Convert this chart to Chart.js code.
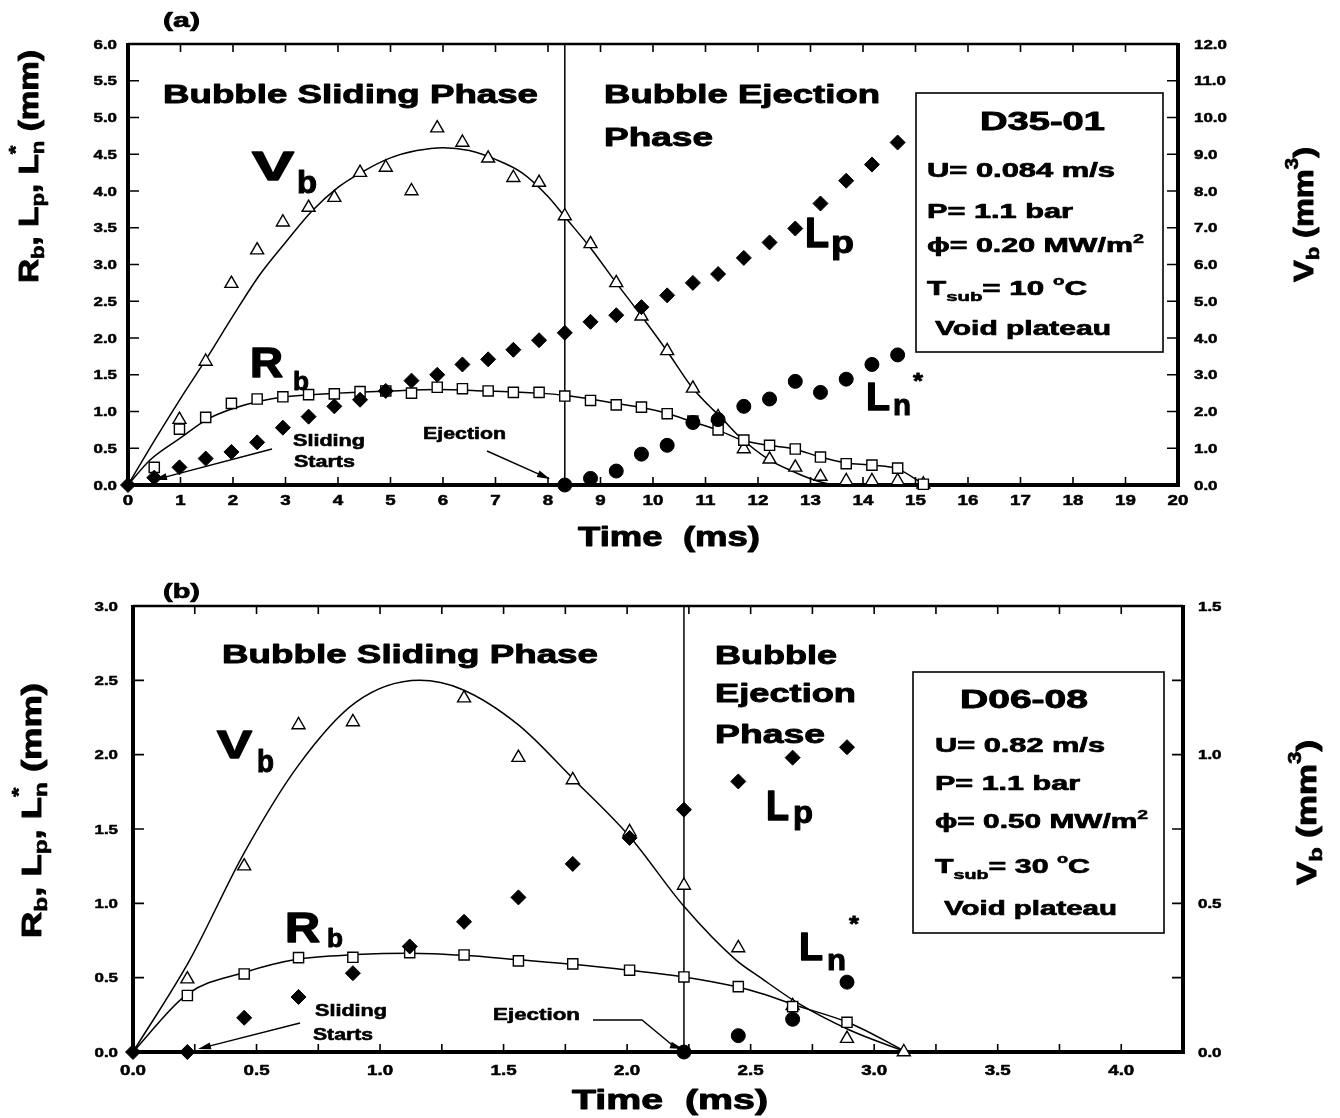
<!DOCTYPE html>
<html>
<head>
<meta charset="utf-8">
<script src="https://cdn.jsdelivr.net/npm/chart.js@4.4.1/dist/chart.umd.min.js"></script>
<style>
  body { margin: 0; background: #fff; }
  canvas { position: absolute; left: 0; top: 0; }
</style>
</head>
<body>
<canvas id="chartA" width="1340" height="1118"></canvas>
<canvas id="chartB" width="1340" height="1118"></canvas>
<script>
// ---------- (a) D35-01 : measured points ----------
const timeA = [0, 0.50, 0.98, 1.48, 1.97, 2.46, 2.95, 3.44, 3.93, 4.42, 4.91, 5.40, 5.89, 6.37, 6.86, 7.34,
  7.83, 8.32, 8.81, 9.30, 9.78, 10.27, 10.76, 11.24, 11.73, 12.22, 12.71, 13.19, 13.68, 14.17, 14.66, 15.15];
const rbA = [null, 0.24, 0.76, 0.92, 1.11, 1.17, 1.20, 1.23, 1.24, 1.27, 1.28, 1.25, 1.33, 1.31, 1.28, 1.26,
  1.26, 1.21, 1.15, 1.09, 1.06, 0.97, 0.87, 0.75, 0.61, 0.54, 0.49, 0.38, 0.29, 0.27, 0.23, 0.01];
const lpA = [0, 0.10, 0.24, 0.36, 0.45, 0.58, 0.78, 0.93, 1.07, 1.16, 1.28, 1.42, 1.50, 1.64, 1.71, 1.84,
  1.97, 2.07, 2.22, 2.31, 2.42, 2.58, 2.75, 2.87, 3.09, 3.30, 3.49, 3.83, 4.14, 4.36, 4.66, null];
const lnA = [null, null, null, null, null, null, null, null, null, null, null, null, null, null, null, null,
  null, 0, 0.09, 0.19, 0.42, 0.54, 0.85, 0.89, 1.07, 1.17, 1.41, 1.26, 1.44, 1.64, 1.77, null];
const vbA = [null, null, 1.78, 3.36, 5.48, 6.39, 7.15, 7.55, 7.82, 8.50, 8.64, 8.00, 9.71, 9.32, 8.89, 8.36,
  8.23, 7.32, 6.56, 5.50, 4.59, 3.65, 2.63, 1.85, 0.98, 0.70, 0.48, 0.23, 0.11, 0.11, 0.11, 0.02];

// (a) fitted curves
const vbFitTimeA = [0, 0.5, 1.0, 1.5, 2.0, 2.5, 3.0, 3.5, 4.0, 4.5, 5.0, 5.5, 6.0, 6.5, 7.0, 7.5, 8.0, 8.32,
  8.81, 9.30, 9.78, 10.27, 10.72, 11.0, 11.28, 11.66, 12.2, 12.68, 13.0, 13.4, 14.0, 15.15];
const vbFitA = [0, 1.2, 2.35, 3.45, 4.6, 5.7, 6.6, 7.45, 8.1, 8.55, 8.9, 9.1, 9.18, 9.1, 8.86, 8.5, 7.85, 7.3,
  6.45, 5.5, 4.6, 3.64, 2.7, 2.25, 1.86, 1.3, 0.7, 0.36, 0.17, 0.02, 0, 0];
const rbFitTimeA = [0, 0.42, 1.0, 1.5, 2.0, 2.5, 3.0, 4.0, 5.0, 5.9, 6.8, 7.8, 8.32, 9.3, 9.8, 10.29, 10.75,
  11.23, 11.66, 12.2, 12.69, 13.19, 13.68, 14.17, 14.66, 15.15];
const rbFitA = [0, 0.34, 0.64, 0.89, 1.04, 1.14, 1.20, 1.25, 1.28, 1.30, 1.28, 1.25, 1.22, 1.11, 1.05, 0.97,
  0.86, 0.75, 0.62, 0.54, 0.49, 0.38, 0.30, 0.27, 0.22, 0.01];
const ejectA = 8.32;

// ---------- (b) D06-08 : measured points ----------
const timeB = [0, 0.22, 0.45, 0.67, 0.89, 1.12, 1.34, 1.56, 1.78, 2.01, 2.23, 2.45, 2.67, 2.89, 3.12];
const rbB = [null, 0.38, 0.525, 0.635, 0.637, 0.668, 0.653, 0.613, 0.593, 0.55, 0.505, 0.44, 0.305, 0.20, null];
const lpB = [0, 0, 0.23, 0.37, 0.53, 0.71, 0.876, 1.04, 1.265, 1.44, 1.63, 1.82, 1.98, 2.05, null];
const lnB = [null, null, null, null, null, null, null, null, null, null, 0, 0.11, 0.22, 0.47, null];
const vbB = [null, 0.245, 0.625, 1.10, 1.11, null, 1.19, 0.99, 0.915, 0.74, 0.56, 0.35, 0.155, 0.045, 0];

// (b) fitted curves
const vbFitTimeB = [0, 0.23, 0.45, 0.67, 0.90, 1.16, 1.33, 1.56, 1.78, 2.01, 2.23, 2.44, 2.54, 2.69, 2.90, 3.13];
const vbFitB = [0, 0.31, 0.67, 0.965, 1.175, 1.25, 1.22, 1.10, 0.92, 0.725, 0.49, 0.31, 0.25, 0.165, 0.074, 0];
const rbFitTimeB = [0, 0.22, 0.45, 0.67, 0.90, 1.12, 1.34, 1.56, 1.78, 2.01, 2.23, 2.44, 2.54, 2.69, 2.90, 3.13];
const rbFitB = [0, 0.39, 0.535, 0.625, 0.655, 0.665, 0.65, 0.62, 0.59, 0.55, 0.505, 0.44, 0.395, 0.31, 0.195, 0];
const ejectB = 2.23;

const FONT = '"Liberation Sans", "DejaVu Sans", Arial, sans-serif';

function pts(xs, ys) {
  return xs.map((x, i) => ({ x: x, y: ys[i] })).filter((p) => p.y !== null);
}

function setFont(ctx, size) {
  ctx.font = "bold " + size + "px " + FONT;
}

// filled + thin stroke so the lettering looks as heavy as the print
function heavyText(ctx, str, x, y, size) {
  ctx.lineWidth = Math.max(0.5, size * 0.035);
  ctx.lineJoin = "round";
  ctx.strokeText(str, x, y);
  ctx.fillText(str, x, y);
}

// text squeezed/stretched horizontally to a given width (w) or factor (sx)
function wideText(ctx, str, x, y, size, o) {
  setFont(ctx, size);
  const nat = ctx.measureText(str).width;
  const sx = o.w ? o.w / nat : o.sx || 1.3;
  const width = nat * sx;
  let x0 = x;
  if (o.align === "center") x0 = x - width / 2;
  if (o.align === "right") x0 = x - width;
  ctx.save();
  ctx.translate(x0, y);
  ctx.scale(sx, 1);
  ctx.textAlign = "left";
  ctx.textBaseline = "alphabetic";
  heavyText(ctx, str, 0, 0, size);
  ctx.restore();
}

// mixed runs (subscripts / superscripts), optionally rotated to read upwards
function drawRuns(ctx, runs, x, y, len, rotate) {
  let nat = 0;
  const widths = runs.map((r) => {
    setFont(ctx, r.s);
    const w = ctx.measureText(r.t).width;
    if (r.adv !== false) nat += w;
    return w;
  });
  const sx = len / nat;
  ctx.save();
  ctx.translate(x, y);
  if (rotate) ctx.rotate(-Math.PI / 2);
  ctx.scale(sx, 1);
  ctx.textAlign = "left";
  ctx.textBaseline = "alphabetic";
  let cx = 0;
  runs.forEach((r, i) => {
    setFont(ctx, r.s);
    heavyText(ctx, r.t, cx, r.dy || 0, r.s);
    if (r.adv !== false) cx += widths[i];
  });
  ctx.restore();
}

function arrow(ctx, a) {
  const ang = Math.atan2(a.y2 - a.y1, a.x2 - a.x1);
  const head = 13;
  ctx.save();
  ctx.strokeStyle = "#000";
  ctx.fillStyle = "#000";
  ctx.lineWidth = 1.4;
  ctx.beginPath();
  ctx.moveTo(a.x1, a.y1);
  if (a.xm !== undefined) ctx.lineTo(a.xm, a.ym);
  ctx.lineTo(a.x2 - Math.cos(ang) * head * 0.8, a.y2 - Math.sin(ang) * head * 0.8);
  ctx.stroke();
  ctx.beginPath();
  ctx.moveTo(a.x2, a.y2);
  ctx.lineTo(a.x2 - Math.cos(ang) * head + Math.sin(ang) * 3.5, a.y2 - Math.sin(ang) * head - Math.cos(ang) * 3.5);
  ctx.lineTo(a.x2 - Math.cos(ang) * head - Math.sin(ang) * 3.5, a.y2 - Math.sin(ang) * head + Math.cos(ang) * 3.5);
  ctx.closePath();
  ctx.fill();
  ctx.restore();
}

// frame, inward ticks, tick labels and the ejection line
const paperAxes = {
  id: "paperAxes",
  beforeDatasetsDraw(chart, args, opts) {
    const { ctx, chartArea: ca, scales } = chart;
    ctx.save();
    ctx.strokeStyle = "#000";
    ctx.fillStyle = "#000";

    // ejection line
    const ex = scales.x.getPixelForValue(opts.eject);
    ctx.lineWidth = 1.5;
    ctx.beginPath();
    ctx.moveTo(ex, ca.bottom);
    ctx.lineTo(ex, ca.top);
    ctx.stroke();

    // frame
    ctx.lineWidth = 2.5;
    ctx.beginPath();
    ctx.moveTo(ca.left, ca.top);
    ctx.lineTo(ca.right, ca.top);
    ctx.stroke();
    ctx.lineWidth = 4;
    ctx.beginPath();
    ctx.moveTo(ca.left, ca.top - 1);
    ctx.lineTo(ca.left, ca.bottom);
    ctx.lineTo(ca.right, ca.bottom);
    ctx.lineTo(ca.right, ca.top - 1);
    ctx.stroke();

    // inward ticks
    ctx.lineWidth = 1.6;
    ctx.beginPath();
    scales.x.ticks.forEach((t) => {
      const px = scales.x.getPixelForValue(t.value);
      ctx.moveTo(px, ca.bottom);
      ctx.lineTo(px, ca.bottom - opts.tickX);
      ctx.moveTo(px, ca.top);
      ctx.lineTo(px, ca.top + opts.tickX);
    });
    scales.y.ticks.forEach((t) => {
      const py = scales.y.getPixelForValue(t.value);
      ctx.moveTo(ca.left, py);
      ctx.lineTo(ca.left + opts.tickY, py);
    });
    scales.y2.ticks.forEach((t) => {
      const py = scales.y2.getPixelForValue(t.value);
      ctx.moveTo(ca.right, py);
      ctx.lineTo(ca.right - opts.tickY, py);
    });
    ctx.stroke();

    // tick labels
    const lx = opts.labelX;
    scales.x.ticks.forEach((t) => {
      if (!lx.show(t.value)) return;
      wideText(ctx, lx.fmt(t.value), scales.x.getPixelForValue(t.value), lx.y, lx.size, { sx: lx.sx, align: "center" });
    });
    const ly = opts.labelY;
    scales.y.ticks.forEach((t) => {
      if (!ly.show(t.value)) return;
      wideText(ctx, ly.fmt(t.value), ly.x, scales.y.getPixelForValue(t.value) + ly.size * 0.36, ly.size, { sx: ly.sx, align: "right" });
    });
    const ly2 = opts.labelY2;
    scales.y2.ticks.forEach((t) => {
      if (!ly2.show(t.value)) return;
      wideText(ctx, ly2.fmt(t.value), ly2.x, scales.y2.getPixelForValue(t.value) + ly2.size * 0.36, ly2.size, { sx: ly2.sx, align: "left" });
    });
    ctx.restore();
  },
  afterDatasetsDraw(chart, args, opts) {
    const ctx = chart.ctx;
    ctx.save();
    ctx.fillStyle = "#000";
    ctx.strokeStyle = "#000";

    // condition box
    const b = opts.box;
    ctx.lineWidth = 1.6;
    ctx.fillStyle = "#fff";
    ctx.fillRect(b.x, b.y, b.w, b.h);
    ctx.strokeRect(b.x, b.y, b.w, b.h);
    ctx.fillStyle = "#000";

    opts.texts.forEach((t) => wideText(ctx, t.t, t.x, t.y, t.s, { w: t.w, align: t.align }));
    opts.runs.forEach((r) => drawRuns(ctx, r.runs, r.x, r.y, r.len, r.rotate));
    opts.arrows.forEach((a) => arrow(ctx, a));
    ctx.restore();
  }
};

function datasets(t, rb, lp, ln, vb, vbFitT, vbFit, rbFitT, rbFit) {
  const curve = { showLine: true, pointRadius: 0, borderColor: "#000", borderWidth: 1.5,
    cubicInterpolationMode: "monotone", clip: false, order: 6 };
  return [
    { label: "Ln*", data: pts(t, ln), pointStyle: "circle", pointRadius: 7,
      backgroundColor: "#000", borderColor: "#000", borderWidth: 1, clip: false, order: 0 },
    { label: "Lp", data: pts(t, lp), pointStyle: "rectRot", pointRadius: 7.5,
      backgroundColor: "#000", borderColor: "#000", borderWidth: 1, clip: false, order: 1 },
    { label: "Rb", data: pts(t, rb), pointStyle: "rect", pointRadius: 7.2,
      backgroundColor: "#fff", borderColor: "#000", borderWidth: 1.4, clip: false, order: 2 },
    { label: "Vb", yAxisID: "y2", data: pts(t, vb), pointStyle: "triangle", pointRadius: 7.5,
      backgroundColor: "#fff", borderColor: "#000", borderWidth: 1.4, clip: false, order: 3 },
    Object.assign({ label: "Vb fit", yAxisID: "y2", data: pts(vbFitT, vbFit) }, curve),
    Object.assign({ label: "Rb fit", data: pts(rbFitT, rbFit) }, curve)
  ];
}

function fixed(size, key) {
  return function (scale) { scale[key] = size; };
}

const hidden = { display: false };
const isHalf = (v) => Math.abs(v * 2 - Math.round(v * 2)) < 1e-6;

// ---------- panel (a) ----------
new Chart(document.getElementById("chartA"), {
  type: "scatter",
  data: { datasets: datasets(timeA, rbA, lpA, lnA, vbA, vbFitTimeA, vbFitA, rbFitTimeA, rbFitA) },
  options: {
    responsive: false,
    animation: false,
    events: [],
    layout: { padding: { top: 44, bottom: 558, left: 0, right: 0 } },
    scales: {
      x: { type: "linear", min: 0, max: 20, ticks: { display: false, stepSize: 1 },
        grid: hidden, border: hidden, afterFit: fixed(75, "height") },
      y: { min: 0, max: 6, ticks: { display: false, stepSize: 0.5 },
        grid: hidden, border: hidden, afterFit: fixed(128, "width") },
      y2: { position: "right", min: 0, max: 12, ticks: { display: false, stepSize: 1 },
        grid: hidden, border: hidden, afterFit: fixed(162, "width") }
    },
    plugins: {
      legend: hidden,
      tooltip: { enabled: false },
      paperAxes: {
        eject: ejectA, tickX: 8, tickY: 11,
        labelX: { show: () => true, fmt: (v) => v.toFixed(0), y: 505, size: 15, sx: 1.25 },
        labelY: { show: () => true, fmt: (v) => v.toFixed(1), x: 117, size: 13, sx: 1.3 },
        labelY2: { show: () => true, fmt: (v) => v.toFixed(1), x: 1194, size: 13, sx: 1.3 },
        box: { x: 916, y: 93, w: 247, h: 259 },
        texts: [
          { t: "(a)", x: 163, y: 27, s: 20, w: 37 },
          { t: "Bubble Sliding Phase", x: 163, y: 103, s: 26, w: 375 },
          { t: "Bubble Ejection", x: 604, y: 103, s: 26, w: 276 },
          { t: "Phase", x: 604, y: 146, s: 26, w: 109 },
          { t: "V", x: 252, y: 180, s: 40, w: 42 },
          { t: "b", x: 297, y: 193, s: 31, w: 20 },
          { t: "R", x: 250, y: 377, s: 42, w: 33 },
          { t: "b", x: 293, y: 390, s: 26, w: 16 },
          { t: "L", x: 805, y: 247, s: 42, w: 24 },
          { t: "p", x: 831, y: 253, s: 31, w: 23 },
          { t: "L", x: 866, y: 410, s: 39, w: 24 },
          { t: "n", x: 893, y: 415, s: 29, w: 18 },
          { t: "*", x: 913, y: 388, s: 22, w: 10 },
          { t: "Sliding", x: 293, y: 446, s: 17, w: 72 },
          { t: "Starts", x: 294, y: 467, s: 17, w: 61 },
          { t: "Ejection", x: 423, y: 439, s: 17, w: 83 },
          { t: "D35-01", x: 980, y: 130, s: 25, w: 125 },
          { t: "U= 0.084 m/s", x: 927, y: 177, s: 20, w: 188 },
          { t: "P= 1.1 bar", x: 927, y: 218, s: 20, w: 146 },
          { t: "Void plateau", x: 935, y: 335, s: 20, w: 176 },
          { t: "Time  (ms)", x: 578, y: 546, s: 28, w: 182 }
        ],
        runs: [
          { x: 927, y: 252, len: 217, runs: [{ t: "\u03d5= 0.20 MW/m", s: 20 }, { t: "2", s: 13, dy: -9 }] },
          { x: 927, y: 295, len: 160, runs: [{ t: "T", s: 20 }, { t: "sub", s: 13, dy: 6 }, { t: "= 10 ", s: 20 },
            { t: "o", s: 12, dy: -10 }, { t: "C", s: 20 }] },
          { x: 38, y: 283, len: 233, rotate: true, runs: [{ t: "R", s: 27 }, { t: "b", s: 18, dy: 6 }, { t: ", ", s: 27 },
            { t: "L", s: 27 }, { t: "p", s: 18, dy: 6 }, { t: ", ", s: 27 }, { t: "L", s: 27 },
            { t: "*", s: 18, dy: -16, adv: false }, { t: "n", s: 18, dy: 6 }, { t: " (mm)", s: 27 }] },
          { x: 1313, y: 282, len: 135, rotate: true, runs: [{ t: "V", s: 28 }, { t: "b", s: 19, dy: 6 },
            { t: " (mm", s: 28 }, { t: "3", s: 18, dy: -15 }, { t: ")", s: 28 }] }
        ],
        arrows: [
          { x1: 272, y1: 449, x2: 154, y2: 480 },
          { x1: 487, y1: 451, x2: 550, y2: 479 }
        ]
      }
    }
  },
  plugins: [paperAxes]
});

// ---------- panel (b) ----------
new Chart(document.getElementById("chartB"), {
  type: "scatter",
  data: { datasets: datasets(timeB, rbB, lpB, lnB, vbB, vbFitTimeB, vbFitB, rbFitTimeB, rbFitB) },
  options: {
    responsive: false,
    animation: false,
    events: [],
    layout: { padding: { top: 606, bottom: 0, left: 0, right: 0 } },
    scales: {
      x: { type: "linear", min: 0, max: 4.25, ticks: { display: false, stepSize: 0.25 },
        grid: hidden, border: hidden, afterFit: fixed(66, "height") },
      y: { min: 0, max: 3, ticks: { display: false, stepSize: 0.5 },
        grid: hidden, border: hidden, afterFit: fixed(133, "width") },
      y2: { position: "right", min: 0, max: 1.5, ticks: { display: false, stepSize: 0.25 },
        grid: hidden, border: hidden, afterFit: fixed(157, "width") }
    },
    plugins: {
      legend: hidden,
      tooltip: { enabled: false },
      paperAxes: {
        eject: ejectB, tickX: 8, tickY: 11,
        labelX: { show: isHalf, fmt: (v) => v.toFixed(1), y: 1075, size: 15, sx: 1.25 },
        labelY: { show: () => true, fmt: (v) => v.toFixed(1), x: 118, size: 13, sx: 1.3 },
        labelY2: { show: isHalf, fmt: (v) => v.toFixed(1), x: 1198, size: 13, sx: 1.3 },
        box: { x: 913, y: 672, w: 251, h: 261 },
        texts: [
          { t: "(b)", x: 163, y: 598, s: 20, w: 37 },
          { t: "Bubble Sliding Phase", x: 222, y: 663, s: 26, w: 376 },
          { t: "Bubble", x: 715, y: 664, s: 26, w: 122 },
          { t: "Ejection", x: 715, y: 702, s: 26, w: 141 },
          { t: "Phase", x: 715, y: 743, s: 26, w: 110 },
          { t: "V", x: 217, y: 758, s: 39, w: 35 },
          { t: "b", x: 257, y: 772, s: 31, w: 17 },
          { t: "R", x: 285, y: 942, s: 42, w: 35 },
          { t: "b", x: 327, y: 947, s: 26, w: 16 },
          { t: "L", x: 766, y: 820, s: 42, w: 23 },
          { t: "p", x: 793, y: 823, s: 31, w: 20 },
          { t: "L", x: 799, y: 960, s: 39, w: 24 },
          { t: "n", x: 827, y: 970, s: 29, w: 19 },
          { t: "*", x: 849, y: 931, s: 22, w: 10 },
          { t: "Sliding", x: 315, y: 1016, s: 17, w: 72 },
          { t: "Starts", x: 313, y: 1040, s: 17, w: 60 },
          { t: "Ejection", x: 493, y: 1020, s: 17, w: 87 },
          { t: "D06-08", x: 960, y: 708, s: 25, w: 128 },
          { t: "U= 0.82 m/s", x: 935, y: 752, s: 20, w: 170 },
          { t: "P= 1.1 bar", x: 935, y: 790, s: 20, w: 145 },
          { t: "Void plateau", x: 944, y: 915, s: 20, w: 173 },
          { t: "Time  (ms)", x: 572, y: 1109, s: 28, w: 196 }
        ],
        runs: [
          { x: 935, y: 828, len: 213, runs: [{ t: "\u03d5= 0.50 MW/m", s: 20 }, { t: "2", s: 13, dy: -9 }] },
          { x: 935, y: 873, len: 155, runs: [{ t: "T", s: 20 }, { t: "sub", s: 13, dy: 6 }, { t: "= 30 ", s: 20 },
            { t: "o", s: 12, dy: -10 }, { t: "C", s: 20 }] },
          { x: 41, y: 938, len: 255, rotate: true, runs: [{ t: "R", s: 27 }, { t: "b", s: 18, dy: 6 }, { t: ", ", s: 27 },
            { t: "L", s: 27 }, { t: "p", s: 18, dy: 6 }, { t: ", ", s: 27 }, { t: "L", s: 27 },
            { t: "*", s: 18, dy: -16, adv: false }, { t: "n", s: 18, dy: 6 }, { t: " (mm)", s: 27 }] },
          { x: 1316, y: 885, len: 145, rotate: true, runs: [{ t: "V", s: 28 }, { t: "b", s: 19, dy: 6 },
            { t: " (mm", s: 28 }, { t: "3", s: 18, dy: -15 }, { t: ")", s: 28 }] }
        ],
        arrows: [
          { x1: 300, y1: 1023, x2: 198, y2: 1049 },
          { x1: 593, y1: 1020, xm: 642, ym: 1020, x2: 683, y2: 1049 }
        ]
      }
    }
  },
  plugins: [paperAxes]
});
</script>
</body>
</html>
